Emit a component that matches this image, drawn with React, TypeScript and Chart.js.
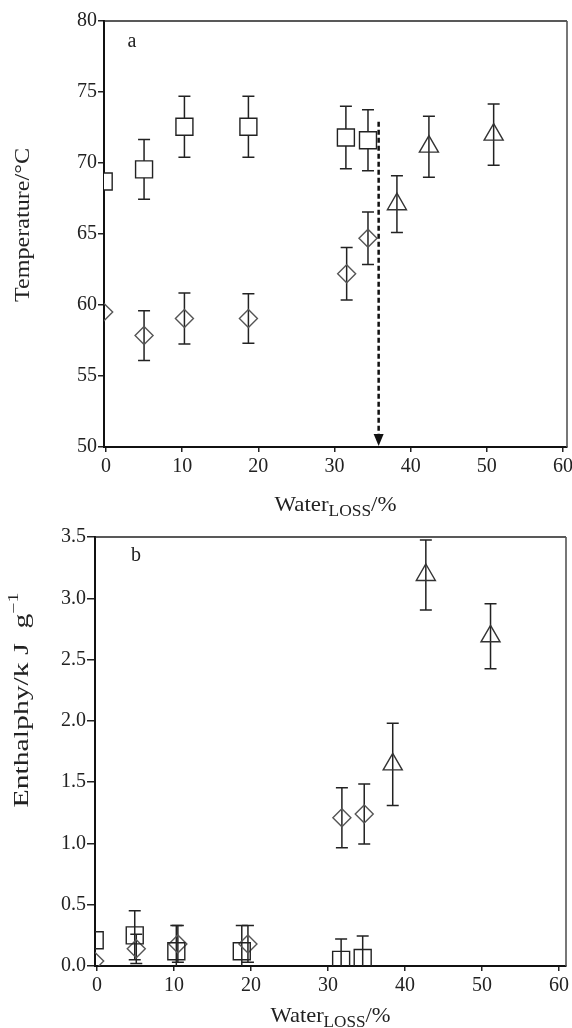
import React, { useEffect, useRef } from "react";
import { Chart, registerables } from "chart.js";
Chart.register(...registerables);

const FONT = "'Liberation Serif', 'Times New Roman', serif";

// Shared x ticks (Water loss, %)
const xTicks = [0, 10, 20, 30, 40, 50, 60];

// ---------- Panel a: Temperature (°C) ----------
const tempTicks = [50, 55, 60, 65, 70, 75, 80];
const aSquareX = [-0.3, 5.0, 10.3, 18.7, 31.5, 34.4];
const aSquareY = [68.7, 69.55, 72.55, 72.55, 71.8, 71.6];
const aSquareErr = [null, 2.1, 2.15, 2.15, 2.2, 2.15];
const aDiamondX = [-0.3, 5.0, 10.3, 18.7, 31.6, 34.4];
const aDiamondY = [59.5, 57.85, 59.05, 59.05, 62.2, 64.7];
const aDiamondErr = [null, 1.75, 1.8, 1.75, 1.85, 1.85];
const aTriangleX = [38.2, 42.4, 50.9];
const aTriangleY = [67.1, 71.15, 72.0];
const aTriangleErr = [2.0, 2.15, 2.15];
const arrowX = 35.8;
const arrowTop = 72.9;

// ---------- Panel b: Enthalpy (kJ g-1) ----------
const enthTicks = [0, 0.5, 1.0, 1.5, 2.0, 2.5, 3.0, 3.5];
const bSquareX = [-0.3, 4.9, 10.3, 18.8, 31.7, 34.5];
const bSquareY = [0.21, 0.25, 0.12, 0.12, 0.05, 0.065];
const bSquareErr = [null, 0.2, 0.21, 0.21, 0.17, 0.18];
const bDiamondX = [-0.3, 5.1, 10.5, 19.6, 31.8, 34.7];
const bDiamondY = [0.04, 0.14, 0.18, 0.18, 1.21, 1.24];
const bDiamondErr = [null, 0.12, 0.15, 0.15, 0.245, 0.245];
const bTriangleX = [38.4, 42.7, 51.1];
const bTriangleY = [1.645, 3.19, 2.69];
const bTriangleErr = [0.335, 0.285, 0.265];

const pts = (xs: number[], ys: number[]) => xs.map((x, i) => ({ x, y: ys[i] }));

const errorBarPlugin = {
  id: "errorBars",
  beforeDatasetsDraw(chart: any) {
    const { ctx, chartArea, scales } = chart;
    ctx.save();
    ctx.beginPath();
    ctx.rect(chartArea.left, chartArea.top, chartArea.right - chartArea.left, chartArea.bottom - chartArea.top);
    ctx.clip();
    ctx.strokeStyle = "#222";
    ctx.lineWidth = 1.5;
    chart.data.datasets.forEach((ds: any) => {
      if (!ds.errors) return;
      ds.data.forEach((p: any, i: number) => {
        const e = ds.errors[i];
        if (e == null) return;
        const px = scales.x.getPixelForValue(p.x);
        const top = scales.y.getPixelForValue(p.y + e);
        const bot = scales.y.getPixelForValue(p.y - e);
        ctx.beginPath();
        ctx.moveTo(px, top);
        ctx.lineTo(px, bot);
        ctx.moveTo(px - 6, top);
        ctx.lineTo(px + 6, top);
        ctx.moveTo(px - 6, bot);
        ctx.lineTo(px + 6, bot);
        ctx.stroke();
      });
    });
    ctx.restore();
  },
};

const framePlugin = {
  id: "frame",
  afterDraw(chart: any) {
    const { ctx, chartArea } = chart;
    ctx.save();
    ctx.strokeStyle = "#222";
    ctx.lineWidth = 1.6;
    ctx.beginPath();
    ctx.moveTo(chartArea.left, chartArea.top);
    ctx.lineTo(chartArea.right, chartArea.top);
    ctx.stroke();
    ctx.strokeStyle = "#555";
    ctx.beginPath();
    ctx.moveTo(chartArea.right, chartArea.top);
    ctx.lineTo(chartArea.right, chartArea.bottom);
    ctx.stroke();
    ctx.restore();
  },
};

type Part = { text: string; size: number; dy: number };

// draws a run of text parts, stretched along the text direction to a target length
function drawRun(ctx: CanvasRenderingContext2D, parts: Part[], target: number) {
  const widths = parts.map((p) => {
    ctx.font = `${p.size}px ${FONT}`;
    return ctx.measureText(p.text).width;
  });
  const total = widths.reduce((a, b) => a + b, 0);
  const sx = target / total;
  ctx.scale(sx, 1);
  let x = -total / 2;
  parts.forEach((p, i) => {
    ctx.font = `${p.size}px ${FONT}`;
    ctx.fillText(p.text, x, p.dy);
    x += widths[i];
  });
}

function drawXTitle(ctx: CanvasRenderingContext2D, cx: number, baseline: number, target: number) {
  ctx.save();
  ctx.fillStyle = "#222";
  ctx.textBaseline = "alphabetic";
  ctx.textAlign = "left";
  ctx.translate(cx, baseline);
  drawRun(ctx, [
    { text: "Water", size: 21, dy: 0 },
    { text: "LOSS", size: 16, dy: 5 },
    { text: "/%", size: 21, dy: 0 },
  ], target);
  ctx.restore();
}

function drawYTitle(ctx: CanvasRenderingContext2D, x: number, cy: number, parts: Part[], target: number) {
  ctx.save();
  ctx.translate(x, cy);
  ctx.rotate(-Math.PI / 2);
  ctx.fillStyle = "#222";
  ctx.textBaseline = "alphabetic";
  ctx.textAlign = "left";
  drawRun(ctx, parts, target);
  ctx.restore();
}

function baseOptions(xMin: number, xMax: number, yMin: number, yMax: number, yTicks: number[], yWidth: number, xHeight: number, pad: any, fmt: (v: number) => string, yTickLen: number) {
  return {
    animation: false,
    responsive: false,
    events: [],
    layout: { padding: pad, autoPadding: false },
    plugins: { legend: { display: false }, tooltip: { enabled: false } },
    scales: {
      x: {
        type: "linear",
        min: xMin,
        max: xMax,
        afterBuildTicks: (s: any) => { s.ticks = xTicks.map((v) => ({ value: v })); },
        afterFit: (s: any) => { s.height = xHeight; s.paddingLeft = 0; s.paddingRight = 0; },
        grid: { display: true, drawOnChartArea: false, drawTicks: true, tickLength: 5, color: "#222", lineWidth: 1.5 },
        border: { display: true, color: "#111", width: 2 },
        ticks: { color: "#222", font: { family: FONT, size: 20 }, padding: 3, maxRotation: 0, autoSkip: false, callback: (v: any) => String(v) },
      },
      y: {
        type: "linear",
        min: yMin,
        max: yMax,
        afterBuildTicks: (s: any) => { s.ticks = yTicks.map((v) => ({ value: v })); },
        afterFit: (s: any) => { s.width = yWidth; s.paddingTop = 0; s.paddingBottom = 0; },
        grid: { display: true, drawOnChartArea: false, drawTicks: true, tickLength: yTickLen, color: "#222", lineWidth: 1.5 },
        border: { display: true, color: "#111", width: 2 },
        ticks: { color: "#222", font: { family: FONT, size: 20 }, padding: 1, autoSkip: false, callback: (v: any) => fmt(Number(v)) },
      },
    },
  };
}

function ds(label: string, xs: number[], ys: number[], errs: (number | null)[], style: string, radius: number, color: string, fill: string) {
  return {
    label,
    data: pts(xs, ys),
    errors: errs,
    showLine: false,
    pointStyle: style,
    pointRadius: radius,
    pointBorderColor: color,
    pointBackgroundColor: fill,
    pointBorderWidth: 1.4,
    clip: 0,
  };
}

export default function App() {
  const refA = useRef<HTMLCanvasElement>(null);
  const refB = useRef<HTMLCanvasElement>(null);

  useEffect(() => {
    const annotA = {
      id: "annotA",
      afterDraw(chart: any) {
        const { ctx, chartArea, scales } = chart;
        // dashed arrow
        const px = scales.x.getPixelForValue(arrowX);
        const top = scales.y.getPixelForValue(arrowTop);
        const bot = chartArea.bottom - 1;
        ctx.save();
        ctx.strokeStyle = "#111";
        ctx.lineWidth = 2.5;
        ctx.setLineDash([5, 3]);
        ctx.beginPath();
        ctx.moveTo(px, top);
        ctx.lineTo(px, bot - 10);
        ctx.stroke();
        ctx.setLineDash([]);
        ctx.fillStyle = "#111";
        ctx.beginPath();
        ctx.moveTo(px - 5, bot - 12);
        ctx.lineTo(px + 5, bot - 12);
        ctx.lineTo(px, bot);
        ctx.closePath();
        ctx.fill();
        ctx.restore();
        // panel label
        ctx.save();
        ctx.fillStyle = "#222";
        ctx.font = `20px ${FONT}`;
        ctx.textAlign = "center";
        ctx.textBaseline = "alphabetic";
        ctx.fillText("a", chartArea.left + 28, chartArea.top + 26);
        ctx.restore();
        drawXTitle(ctx, (chartArea.left + chartArea.right) / 2, 511, 122);
        drawYTitle(ctx, 29, 225, [{ text: "Temperature/°C", size: 21, dy: 0 }], 154);
      },
    };
    const annotB = {
      id: "annotB",
      afterDraw(chart: any) {
        const { ctx, chartArea } = chart;
        ctx.save();
        ctx.fillStyle = "#222";
        ctx.font = `20px ${FONT}`;
        ctx.textAlign = "center";
        ctx.textBaseline = "alphabetic";
        ctx.fillText("b", chartArea.left + 41, chartArea.top + 24);
        ctx.restore();
        drawXTitle(ctx, (chartArea.left + chartArea.right) / 2, 502, 120);
        drawYTitle(ctx, 28, 180, [
          { text: "Enthalphy/k J  g", size: 21, dy: 0 },
          { text: "−1", size: 14, dy: -10 },
        ], 215);
      },
    };

    const chartA = new Chart(refA.current as HTMLCanvasElement, {
      type: "scatter",
      data: {
        datasets: [
          ds("squares", aSquareX, aSquareY, aSquareErr, "rect", 12, "#222", "#fff"),
          ds("diamonds", aDiamondX, aDiamondY, aDiamondErr, "rectRot", 9, "#555", "rgba(0,0,0,0)"),
          ds("triangles", aTriangleX, aTriangleY, aTriangleErr, "triangle", 11, "#333", "rgba(0,0,0,0)"),
        ] as any,
      },
      options: baseOptions(-0.26, 60.53, 50, 80, tempTicks, 104, 73, { left: 0, top: 21, right: 5, bottom: 0 }, (v) => String(v), 6) as any,
      plugins: [errorBarPlugin, framePlugin, annotA],
    });

    const chartB = new Chart(refB.current as HTMLCanvasElement, {
      type: "scatter",
      data: {
        datasets: [
          ds("squares", bSquareX, bSquareY, bSquareErr, "rect", 12, "#222", "rgba(0,0,0,0)"),
          ds("diamonds", bDiamondX, bDiamondY, bDiamondErr, "rectRot", 9, "#555", "rgba(0,0,0,0)"),
          ds("triangles", bTriangleX, bTriangleY, bTriangleErr, "triangle", 11, "#333", "rgba(0,0,0,0)"),
        ] as any,
      },
      options: baseOptions(-0.26, 60.9, 0, 3.5, enthTicks, 95, 62, { left: 0, top: 17, right: 6, bottom: 0 }, (v) => v.toFixed(1), 8) as any,
      plugins: [errorBarPlugin, framePlugin, annotB],
    });

    return () => {
      chartA.destroy();
      chartB.destroy();
    };
  }, []);

  return (
    <div style={{ position: "absolute", left: 0, top: 0, width: 572, height: 1028, background: "#fff", overflow: "hidden" }}>
      <canvas ref={refA} width={572} height={520} style={{ position: "absolute", left: 0, top: 0, width: 572, height: 520 }} />
      <canvas ref={refB} width={572} height={508} style={{ position: "absolute", left: 0, top: 520, width: 572, height: 508 }} />
    </div>
  );
}
